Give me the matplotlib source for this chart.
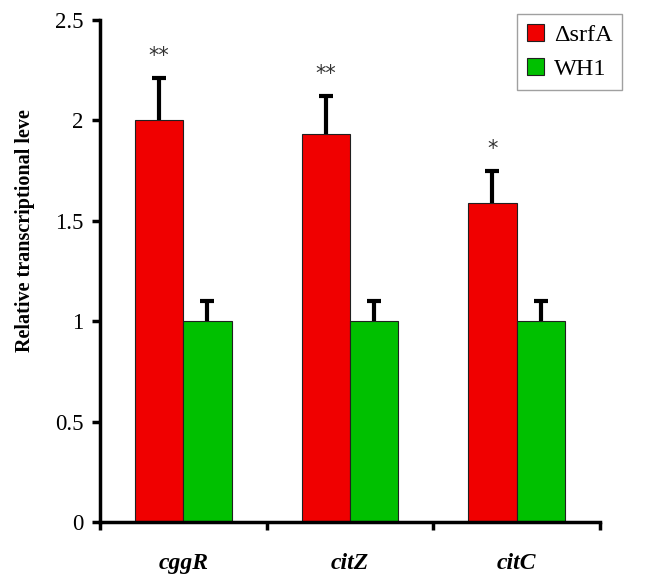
import matplotlib
matplotlib.use("Agg")
import matplotlib.pyplot as plt
import numpy as np

genes = ["cggR", "citZ", "citC"]
srfa_vals = [2.00, 1.93, 1.59]
srfa_err = [0.21, 0.19, 0.16]
wh1_vals = [1.0, 1.0, 1.0]
wh1_err = [0.10, 0.10, 0.10]
stars = ["**", "**", "*"]
yticks = [0, 0.5, 1, 1.5, 2, 2.5]
ytick_labels = ["0", "0.5", "1", "1.5", "2", "2.5"]

plt.rcParams['font.family'] = ['Liberation Serif', 'DejaVu Serif']

fig = plt.figure(figsize=(6.49, 5.77), dpi=100)
ax = fig.add_axes([100/649, 1 - 522/577, 500/649, 502/577])

x = np.arange(len(genes))
w = 0.29
ekw = dict(elinewidth=3, capthick=3, ecolor='black')
ax.bar(x - w/2, srfa_vals, w, color='#f00000', edgecolor='#202020', linewidth=0.8,
       label='ΔsrfA', zorder=2)
ax.bar(x + w/2, wh1_vals, w, color='#00c000', edgecolor='#202020', linewidth=0.8,
       label='WH1', zorder=2)
for vals, errs, off in [(srfa_vals, srfa_err, -w/2), (wh1_vals, wh1_err, w/2)]:
    eb = ax.errorbar(x + off, vals, yerr=[np.zeros(3), errs], fmt='none', capsize=5, zorder=3, **ekw)
    eb[1][0].set_visible(False)

for xi, v, e, s in zip(x, srfa_vals, srfa_err, stars):
    ax.text(xi - w/2, v + e + 0.06, s, ha='center', va='bottom', fontsize=15,
            family='DejaVu Sans', color='#333333')

ax.set_xlim(-0.5, 2.5)
ax.set_ylim(0, 2.5)
ax.set_yticks(yticks)
ax.set_yticklabels(ytick_labels, fontsize=16.5)
ax.set_xticks([-0.5, 0.5, 1.5, 2.5])
ax.set_xticklabels([])
ax.set_xticks(x, minor=True)
ax.set_xticklabels(genes, minor=True, fontsize=17, fontweight='bold', fontstyle='italic')
ax.tick_params(axis='x', which='minor', length=0, pad=22)
ax.tick_params(axis='x', which='major', length=6, width=2.5, direction='out')
ax.tick_params(axis='y', length=6, width=2.5, direction='out', pad=6)

for sp in ['top', 'right']:
    ax.spines[sp].set_visible(False)
for sp in ['left', 'bottom']:
    ax.spines[sp].set_linewidth(2.5)

ax.set_ylabel('Relative transcriptional leve', fontsize=14.5, fontweight='bold')
ax.yaxis.set_label_coords(-0.13, 0.58)

leg = ax.legend(loc='upper right', bbox_to_anchor=(622/649, 1 - 14/577), bbox_transform=fig.transFigure,
                fontsize=17.5, frameon=True, fancybox=False, handlelength=0.7, handleheight=0.7,
                handletextpad=0.4, borderpad=0.4, labelspacing=0.5, borderaxespad=0)
leg.get_frame().set_edgecolor('#888888')
leg.get_frame().set_linewidth(1)

fig.savefig('out.png', dpi=100)
